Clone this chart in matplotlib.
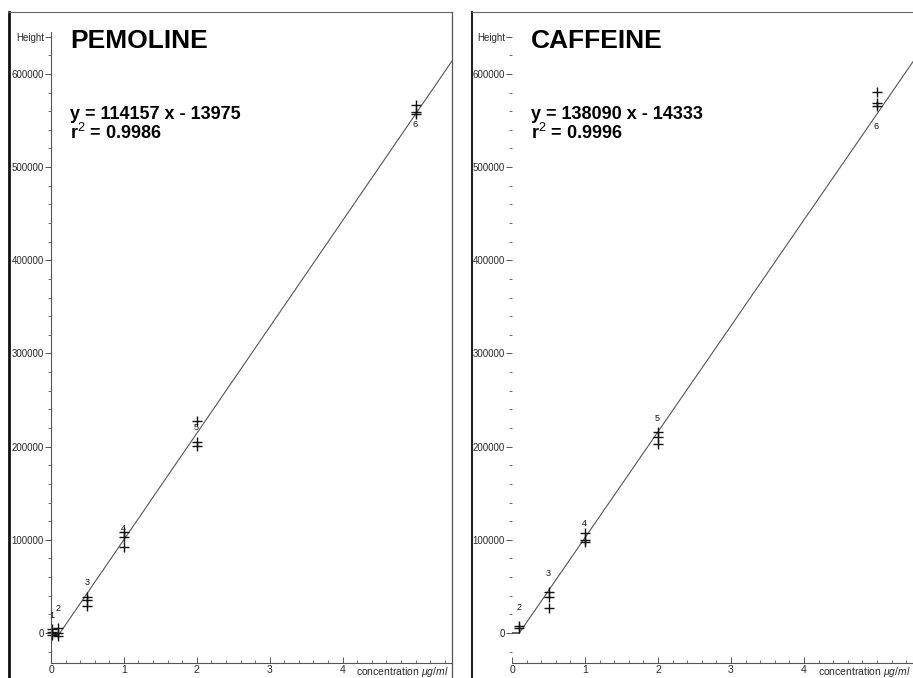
import matplotlib
matplotlib.use("Agg")
import matplotlib.pyplot as plt
from matplotlib.lines import Line2D
from matplotlib.ticker import MultipleLocator, FixedLocator
import numpy as np

plt.rcParams['font.family'] = ['Liberation Sans', 'DejaVu Sans']
plt.rcParams['mathtext.fontset'] = 'custom'
plt.rcParams['mathtext.it'] = 'Liberation Sans:italic'
plt.rcParams['mathtext.rm'] = 'Liberation Sans'

# ---------------- data ----------------
pem_title = "PEMOLINE"
pem_equation = "y = 114157 x - 13975"
pem_r2 = "0.9986"
pem_slope = 114157
pem_intercept = -13975
pem_levels = ["1", "2", "3", "4", "5", "6"]
pem_conc = [0.02, 0.1, 0.5, 1.0, 2.0, 5.0]
pem_heights = [
    [4000, 1000, -2000],
    [5700, 0, -3200],
    [38600, 35400, 29000],
    [108000, 103300, 92600],
    [227000, 205000, 200500],
    [566500, 559300, 557000],
]

caf_title = "CAFFEINE"
caf_equation = "y = 138090 x - 14333"
caf_r2 = "0.9996"
caf_slope = 113700        # slope of the line as drawn in the picture
caf_intercept = -11400    # intercept of the line as drawn in the picture
caf_levels = ["2", "3", "4", "5", "6"]
caf_conc = [0.1, 0.5, 1.0, 2.0, 5.0]
caf_heights = [
    [7500, 5700],
    [43700, 38300, 27100],
    [107300, 99800, 97600],
    [216000, 210600, 202800],
    [580800, 568300, 565800],
]

y_ticks = [0, 100000, 200000, 300000, 400000, 500000, 600000]
x_ticks = [0, 1, 2, 3, 4]

# label offsets in pixels relative to the highest point of each level (+ = above)
pem_label_off = [14, 19, 15, 4, -6, -19]
caf_label_off = [19, 19, 10, 13, -35]

W, H = 913, 678
fig = plt.figure(figsize=(W / 100, H / 100), dpi=100)
fig.patch.set_facecolor('white')

YMIN, YMAX = -32200, 645000
XMIN, XMAX = 0, 5.5
tick_col = '#2a2a2a'


def make_axes(left_px, right_px):
    ax = fig.add_axes([left_px / W, (H - 663) / H, (right_px - left_px) / W, (663 - 32) / H])
    ax.set_xlim(XMIN, XMAX)
    ax.set_ylim(YMIN, YMAX)
    for s in ['top', 'right']:
        ax.spines[s].set_visible(False)
    for s in ['left', 'bottom']:
        ax.spines[s].set_color('#555555')
        ax.spines[s].set_linewidth(0.8)
    ax.yaxis.set_major_locator(FixedLocator(y_ticks + [640000]))
    ax.set_yticklabels([str(v) for v in y_ticks] + ['Height'])
    ax.yaxis.set_minor_locator(MultipleLocator(20000))
    ax.xaxis.set_major_locator(FixedLocator(x_ticks))
    ax.set_xticklabels([str(v) for v in x_ticks])
    ax.xaxis.set_minor_locator(MultipleLocator(0.2))
    ax.tick_params(axis='y', which='major', direction='out', length=4, width=0.7,
                   colors='#555555', labelcolor=tick_col, labelsize=7, pad=1.0)
    ax.tick_params(axis='y', which='minor', direction='out', length=2, width=0.6,
                   colors='#555555')
    ax.tick_params(axis='x', which='major', direction='in', length=4, width=0.7,
                   colors='#555555', labelcolor=tick_col, labelsize=7.5, pad=1.5)
    ax.tick_params(axis='x', which='minor', direction='in', length=2, width=0.6,
                   colors='#555555')
    ax.text(0.992, -0.0145, r'concentration $\mu g/ml$', transform=ax.transAxes,
            ha='right', va='center', fontsize=7.5, color=tick_col, clip_on=False)
    return ax


def draw_panel(ax, title, eq, r2, slope, intercept, levels, conc, heights, offs):
    xs = np.array([0.1, XMAX])
    ax.plot(xs, slope * xs + intercept, color='#555555', lw=0.8, clip_on=True)
    ax.plot([0, 0.1], [0, slope * 0.1 + intercept], color='#222222', lw=1.0)
    for lab, c, hs, off in zip(levels, conc, heights, offs):
        ax.plot([c] * len(hs), hs, linestyle='none', marker='+', ms=7, mew=1.0,
                color='#111111', clip_on=False)
        ax.annotate(lab, (c, max(hs)), xytext=(-0.5, off * 0.72), textcoords='offset points',
                    ha='center', va='center', fontsize=6.5, color='#111111')
    ax.text(0.048, 0.985, title, transform=ax.transAxes, fontsize=19, fontweight='bold',
            ha='left', va='center', color='black')
    ax.text(0.048, 0.869, eq, transform=ax.transAxes, fontsize=13, fontweight='bold',
            ha='left', va='center', color='black')
    ax.text(0.048, 0.840, r'r$^{2}$ = ' + r2, transform=ax.transAxes, fontsize=13,
            fontweight='bold', ha='left', va='center', color='black')


ax1 = make_axes(51, 452)
draw_panel(ax1, pem_title, pem_equation, pem_r2, pem_slope, pem_intercept,
           pem_levels, pem_conc, pem_heights, pem_label_off)

ax2 = make_axes(512, 913.5)
ax2.spines['left'].set_visible(False)
draw_panel(ax2, caf_title, caf_equation, caf_r2, caf_slope, caf_intercept,
           caf_levels, caf_conc, caf_heights, caf_label_off)


def fl(x0, y0, x1, y1, lw, c):
    fig.add_artist(Line2D([x0 / W, x1 / W], [1 - y0 / H, 1 - y1 / H], lw=lw, color=c,
                          transform=fig.transFigure))


fl(8.5, 12, 8.5, H, 2.0, '#111111')
fl(8, 12, 452, 12, 0.8, '#666666')
fl(452, 12, 452, H, 0.9, '#555555')
fl(472, 12, 472, H, 1.5, '#222222')
fl(472, 12, W, 12, 0.8, '#666666')

fig.savefig('out.png', dpi=100, facecolor='white')
